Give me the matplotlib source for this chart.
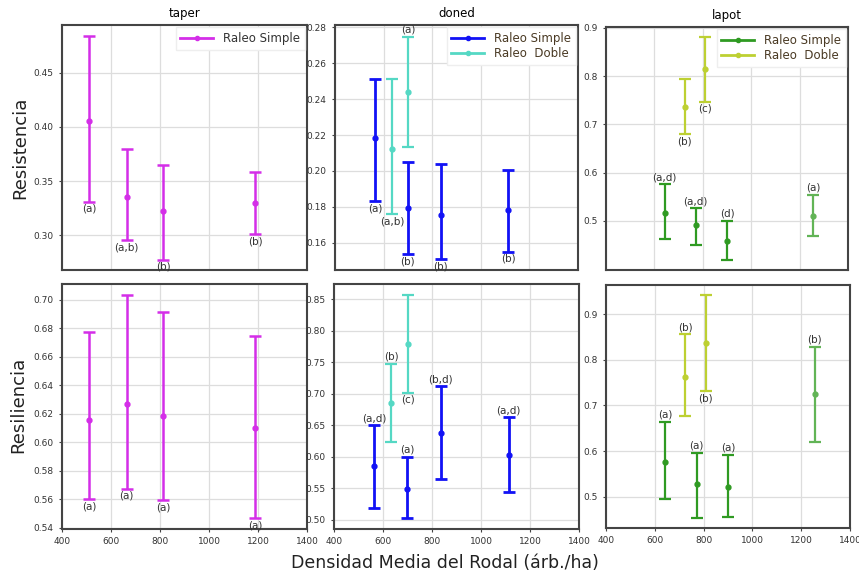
import numpy as np
import matplotlib.pyplot as plt
from matplotlib.lines import Line2D

# ---- data ----
# taper, Raleo Simple
taper_x = [510, 664, 813, 1188]
taper_res = [0.405, 0.335, 0.322, 0.330]
taper_res_lo = [0.331, 0.2954, 0.2775, 0.301]
taper_res_hi = [0.4836, 0.380, 0.365, 0.358]
taper_res_lab = ["(a)", "(a,b)", "(b)", "(b)"]
taper_sil = [0.6157, 0.627, 0.6183, 0.6099]
taper_sil_lo = [0.560, 0.5674, 0.5592, 0.5466]
taper_sil_hi = [0.6775, 0.7035, 0.691, 0.6744]
taper_sil_lab = ["(a)", "(a)", "(a)", "(a)"]

# doned, Raleo Simple / Raleo Doble
doned_s_x = [565, 699, 835, 1113]
doned_s_res = [0.2181, 0.1795, 0.1754, 0.1782]
doned_s_res_lo = [0.1832, 0.1536, 0.1509, 0.1549]
doned_s_res_hi = [0.2514, 0.2051, 0.2037, 0.2005]
doned_s_res_lab = ["(a)", "(b)", "(b)", "(b)"]
doned_s_sil = [0.586, 0.5486, 0.6377, 0.603]
doned_s_sil_lo = [0.5195, 0.5027, 0.5644, 0.5448]
doned_s_sil_hi = [0.650, 0.600, 0.7117, 0.6628]
doned_s_sil_lab = ["(a,d)", "(a)", "(b,d)", "(a,d)"]

doned_d_x = [634, 700]
doned_d_res = [0.2124, 0.244]
doned_d_res_lo = [0.1758, 0.2133]
doned_d_res_hi = [0.2514, 0.2748]
doned_d_res_lab = ["(a,b)", "(a)"]
doned_d_sil = [0.6858, 0.7787]
doned_d_sil_lo = [0.6241, 0.7013]
doned_d_sil_hi = [0.7475, 0.8563]
doned_d_sil_lab = ["(b)", "(c)"]

# lapot, Raleo Simple / Raleo Doble
lapot_s_x = [642, 771, 900, 1256]
lapot_s_res = [0.5153, 0.491, 0.4584, 0.509]
lapot_s_res_lo = [0.4619, 0.4506, 0.4189, 0.469]
lapot_s_res_hi = [0.5755, 0.5255, 0.4994, 0.554]
lapot_s_res_lab = ["(a,d)", "(a,d)", "(d)", "(a)"]
lapot_s_sil = [0.576, 0.5286, 0.5221, 0.7249]
lapot_s_sil_lo = [0.495, 0.4533, 0.4555, 0.6191]
lapot_s_sil_hi = [0.6636, 0.5964, 0.5915, 0.8277]
lapot_s_sil_lab = ["(a)", "(a)", "(a)", "(b)"]

lapot_d_x = [725, 808]
lapot_d_res = [0.7354, 0.8142]
lapot_d_res_lo = [0.6793, 0.7468]
lapot_d_res_hi = [0.7951, 0.882]
lapot_d_res_lab = ["(b)", "(c)"]
lapot_d_sil = [0.7628, 0.8358]
lapot_d_sil_lo = [0.6761, 0.7307]
lapot_d_sil_hi = [0.8555, 0.9423]
lapot_d_sil_lab = ["(b)", "(b)"]

# ---- styles ----
c_taper = "#d42ee8"
c_blue = "#1212f5"
c_turq = "#55d8c4"
c_green = "#2f9a22"
c_green2 = "#62b456"
c_yell = "#bdd032"
txt_brown = "#4a3a24"

W, H = 859, 574
fig = plt.figure(figsize=(W / 100, H / 100), dpi=100)


def make_ax(l, t, r, b):
    return fig.add_axes([l / W, 1 - b / H, (r - l) / W, (b - t) / H])


def errs(ax, x, y, lo, hi, labs, color, pos, lw=1.8, colors=None):
    y = np.array(y)
    yerr = [y - np.array(lo), np.array(hi) - y]
    for i in range(len(x)):
        c = colors[i] if colors else color
        ax.errorbar([x[i]], [y[i]], yerr=[[yerr[0][i]], [yerr[1][i]]], fmt="o",
                    color=c, ms=3.5, lw=lw, capsize=4, capthick=lw, zorder=3)
        if pos[i] == "up":
            ax.annotate(labs[i], (x[i], hi[i]), xytext=(0, 1.5), textcoords="offset points",
                        ha="center", va="bottom", fontsize=7.5, color="#333333")
        else:
            ax.annotate(labs[i], (x[i], lo[i]), xytext=(0, -1.5), textcoords="offset points",
                        ha="center", va="top", fontsize=7.5, color="#333333")


def style(ax, ylim, yticks, fmt, xlabels):
    ax.set_xlim(400, 1400)
    ax.set_ylim(*ylim)
    ax.set_xticks([400, 600, 800, 1000, 1200, 1400])
    ax.set_yticks(yticks)
    ax.set_yticklabels([fmt % v for v in yticks])
    ax.grid(True, color="#dddddd", lw=0.9)
    ax.set_axisbelow(True)
    ax.tick_params(labelsize=6.5, labelcolor="#333333", length=2.5, color="#444444")
    if not xlabels:
        ax.tick_params(axis="x", labelbottom=False, length=0)
    for s in ax.spines.values():
        s.set_color("#444444")
        s.set_linewidth(1.5)


def legend(ax, items, tcolor):
    hs = [Line2D([0], [0], color=c, marker="o", ms=3, lw=2) for c, _ in items]
    leg = ax.legend(hs, [n for _, n in items], loc="upper right", fontsize=8.5,
                    frameon=True, fancybox=False, edgecolor="#eeeeee", framealpha=1,
                    handlelength=2.8, borderaxespad=0.2, labelspacing=0.2)
    for t in leg.get_texts():
        t.set_color(tcolor)


# top row: Resistencia
ax1 = make_ax(62, 25, 307, 270)
errs(ax1, taper_x, taper_res, taper_res_lo, taper_res_hi, taper_res_lab, c_taper, ["dn"] * 4)
style(ax1, (0.268, 0.494), [0.30, 0.35, 0.40, 0.45], "%.2f", False)
ax1.set_title("taper", fontsize=8.5, pad=6)
legend(ax1, [(c_taper, "Raleo Simple")], "#333333")

ax2 = make_ax(335, 25, 578, 270)
errs(ax2, doned_s_x, doned_s_res, doned_s_res_lo, doned_s_res_hi, doned_s_res_lab, c_blue, ["dn"] * 4, lw=2)
errs(ax2, doned_d_x, doned_d_res, doned_d_res_lo, doned_d_res_hi, doned_d_res_lab, c_turq, ["dn", "up"], lw=1.6)
style(ax2, (0.1448, 0.2813), [0.16, 0.18, 0.20, 0.22, 0.24, 0.26, 0.28], "%.2f", False)
ax2.set_title("doned", fontsize=8.5, pad=6)
legend(ax2, [(c_blue, "Raleo Simple"), (c_turq, "Raleo  Doble")], txt_brown)

ax3 = make_ax(606, 27, 848, 270)
errs(ax3, lapot_s_x, lapot_s_res, lapot_s_res_lo, lapot_s_res_hi, lapot_s_res_lab, c_green, ["up"] * 4,
     lw=1.6, colors=[c_green, c_green, c_green, c_green2])
errs(ax3, lapot_d_x, lapot_d_res, lapot_d_res_lo, lapot_d_res_hi, lapot_d_res_lab, c_yell, ["dn", "dn"], lw=1.6)
style(ax3, (0.3977, 0.902), [0.5, 0.6, 0.7, 0.8, 0.9], "%.1f", False)
ax3.set_title("lapot", fontsize=8.5, pad=6)
legend(ax3, [(c_green, "Raleo Simple"), (c_yell, "Raleo  Doble")], txt_brown)

# bottom row: Resiliencia
ax4 = make_ax(62, 284, 307, 529)
errs(ax4, taper_x, taper_sil, taper_sil_lo, taper_sil_hi, taper_sil_lab, c_taper, ["dn"] * 4)
style(ax4, (0.539, 0.711), [0.54, 0.56, 0.58, 0.60, 0.62, 0.64, 0.66, 0.68, 0.70], "%.2f", True)

ax5 = make_ax(334, 284, 579, 529)
errs(ax5, doned_s_x, doned_s_sil, doned_s_sil_lo, doned_s_sil_hi, doned_s_sil_lab, c_blue, ["up"] * 4, lw=2)
errs(ax5, doned_d_x, doned_d_sil, doned_d_sil_lo, doned_d_sil_hi, doned_d_sil_lab, c_turq, ["up", "dn"], lw=1.6)
style(ax5, (0.4857, 0.8738), [0.50, 0.55, 0.60, 0.65, 0.70, 0.75, 0.80, 0.85], "%.2f", True)

ax6 = make_ax(606, 285, 850, 528)
errs(ax6, lapot_s_x, lapot_s_sil, lapot_s_sil_lo, lapot_s_sil_hi, lapot_s_sil_lab, c_green, ["up"] * 4,
     lw=1.6, colors=[c_green, c_green, c_green, c_green2])
errs(ax6, lapot_d_x, lapot_d_sil, lapot_d_sil_lo, lapot_d_sil_hi, lapot_d_sil_lab, c_yell, ["up", "dn"], lw=1.6)
style(ax6, (0.4315, 0.9635), [0.5, 0.6, 0.7, 0.8, 0.9], "%.1f", True)

fig.text(20 / W, 1 - 148 / H, "Resistencia", rotation=90, ha="center", va="center", fontsize=13, color="#222222")
fig.text(18 / W, 1 - 405 / H, "Resiliencia", rotation=90, ha="center", va="center", fontsize=13, color="#222222")
fig.text(445 / W, 1 - 563 / H, "Densidad Media del Rodal (árb./ha)", ha="center", va="center",
         fontsize=12.5, color="#222222")

fig.savefig("out.png", dpi=100)
